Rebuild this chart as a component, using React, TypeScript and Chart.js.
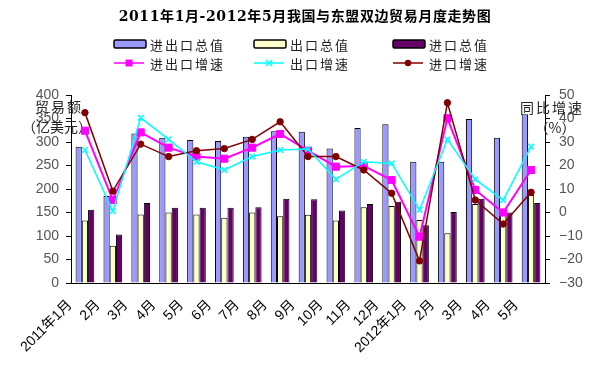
import React, { useEffect, useRef } from 'react';
import { Chart, registerables } from 'chart.js';

Chart.register(...registerables);

const chartTitle = '2011年1月-2012年5月我国与东盟双边贸易月度走势图';
const months = ['2011年1月', '2月', '3月', '4月', '5月', '6月', '7月', '8月', '9月', '10月', '11月', '12月', '2012年1月', '2月', '3月', '4月', '5月'];
const totalValue = [290, 185, 318, 309, 304, 302, 311, 323, 322, 286, 330, 338, 258, 258, 349, 309, 359];
const exportValue = [133, 79, 146, 150, 146, 139, 150, 142, 145, 133, 161, 164, 134, 106, 168, 148, 187];
const importValue = [156, 103, 170, 160, 160, 160, 161, 179, 178, 154, 168, 173, 123, 151, 179, 150, 170];
const totalGrowth = [34.8, 5.3, 34.1, 27.6, 23.8, 22.9, 27.6, 33.4, 26.3, 19.5, 19.8, 13.8, -10.3, 40.1, 9.6, 0, 18.1];
const exportGrowth = [26.6, 0.6, 40.3, 31.1, 21.6, 18.1, 23.8, 26.6, 27.0, 14.1, 21.6, 20.9, 1.1, 31.1, 14.1, 5.3, 28.0];
const importGrowth = [42.5, 9.1, 29.1, 23.8, 26.3, 27.2, 31.1, 38.6, 23.8, 23.8, 18.1, 8.2, -20.6, 46.7, 5.3, -4.9, 8.6];
const leftAxisTitle = ['贸易额', '（亿美元）'];
const rightAxisTitle = ['同比增速', '（%）'];

const CJK = "'Noto Sans CJK SC', sans-serif";

function legendMarker(ctx: CanvasRenderingContext2D, style: string, color: string, cx: number, cy: number) {
  ctx.fillStyle = color;
  ctx.strokeStyle = color;
  if (style === 'rect') {
    ctx.fillRect(cx - 3.5, cy - 3.5, 7, 7);
  } else if (style === 'circle') {
    ctx.beginPath();
    ctx.arc(cx, cy, 3.2, 0, Math.PI * 2);
    ctx.fill();
  } else {
    ctx.lineWidth = 1.5;
    ctx.beginPath();
    ctx.moveTo(cx - 3, cy - 3);
    ctx.lineTo(cx + 3, cy + 3);
    ctx.moveTo(cx - 3, cy + 3);
    ctx.lineTo(cx + 3, cy - 3);
    ctx.stroke();
  }
}

const decorPlugin = {
  id: 'decor',
  beforeDatasetsDraw(chart: any) {
    const ctx = chart.ctx;
    ctx.save();
    ctx.fillStyle = '#222';
    ctx.textAlign = 'center';
    ctx.textBaseline = 'middle';
    ctx.font = `14px ${CJK}`;
    try { (ctx as any).letterSpacing = '2px'; } catch (e) {}
    ctx.fillText(leftAxisTitle[0], 59, 107);
    ctx.fillText(rightAxisTitle[0], 552, 108);
    try { (ctx as any).letterSpacing = '0px'; } catch (e) {}
    ctx.fillText(leftAxisTitle[1], 57, 127);
    ctx.fillText(rightAxisTitle[1], 555, 128);
    ctx.restore();
  },
  afterDraw(chart: any) {
    const ctx = chart.ctx;
    ctx.save();
    ctx.fillStyle = '#000';
    ctx.textAlign = 'center';
    ctx.textBaseline = 'middle';
    ctx.font = `bold 14px 'DejaVu Serif', ${CJK}`;
    try { (ctx as any).letterSpacing = '0.6px'; } catch (e) {}
    ctx.fillText(chartTitle, 305, 17);
    const cols = [114, 254, 393];
    const ds = chart.data.datasets;
    ctx.font = `13px ${CJK}`;
    try { (ctx as any).letterSpacing = '2px'; } catch (e) {}
    ctx.textAlign = 'left';
    for (let i = 0; i < 6; i++) {
      const d = ds[i];
      const x = cols[i % 3];
      const y = i < 3 ? 44 : 63;
      if (d.type === 'bar') {
        ctx.fillStyle = d.backgroundColor;
        ctx.strokeStyle = '#000';
        ctx.lineWidth = 1.5;
        ctx.beginPath();
        ctx.roundRect(x, y - 4, 32, 8, 1.5);
        ctx.fill();
        ctx.stroke();
      } else {
        ctx.strokeStyle = d.borderColor;
        ctx.lineWidth = 1.5;
        ctx.beginPath();
        ctx.moveTo(x, y);
        ctx.lineTo(x + 30, y);
        ctx.stroke();
        legendMarker(ctx, d.pointStyle, d.borderColor, x + 15, y);
      }
      ctx.fillStyle = '#222';
      ctx.fillText(d.label, x + 36, y + 1);
    }
    ctx.restore();
  },
};

export default function App() {
  const ref = useRef<HTMLCanvasElement | null>(null);
  useEffect(() => {
    if (!ref.current) return;
    const minus = (v: any) => String(v).replace('-', '−');
    const chart = new Chart(ref.current, {
      type: 'bar',
      data: {
        labels: months,
        datasets: [
          { type: 'bar', label: '进出口总值', data: totalValue, backgroundColor: '#9999FF', borderColor: '#000', borderWidth: 1, yAxisID: 'y', order: 2 },
          { type: 'bar', label: '出口总值', data: exportValue, backgroundColor: '#FFFFCC', borderColor: '#000', borderWidth: 1, yAxisID: 'y', order: 2 },
          { type: 'bar', label: '进口总值', data: importValue, backgroundColor: '#660066', borderColor: '#000', borderWidth: 1, yAxisID: 'y', order: 2 },
          { type: 'line', label: '进出口增速', data: totalGrowth, borderColor: '#FF00FF', backgroundColor: '#FF00FF', borderWidth: 2, pointStyle: 'rect', pointRadius: 5, pointBorderWidth: 1, pointBackgroundColor: '#FF00FF', pointBorderColor: '#FF00FF', yAxisID: 'y1', order: 1 },
          { type: 'line', label: '出口增速', data: exportGrowth, borderColor: '#00FFFF', backgroundColor: '#00FFFF', borderWidth: 1.5, pointStyle: 'crossRot', pointRadius: 4, pointBorderWidth: 1.5, pointBorderColor: '#00FFFF', yAxisID: 'y1', order: 0 },
          { type: 'line', label: '进口增速', data: importGrowth, borderColor: '#800000', backgroundColor: '#800000', borderWidth: 1.5, pointStyle: 'circle', pointRadius: 3.2, pointBorderWidth: 1, pointBackgroundColor: '#800000', pointBorderColor: '#800000', yAxisID: 'y1', order: 0 },
        ] as any,
      },
      options: {
        responsive: false,
        animation: false,
        layout: { padding: { top: 95, left: 0, right: 0, bottom: 0 } },
        plugins: { legend: { display: false }, title: { display: false }, tooltip: { enabled: false } },
        datasets: { bar: { categoryPercentage: 0.67, barPercentage: 1 } } as any,
        scales: {
          x: {
            grid: { display: false },
            border: { color: '#000', width: 1 },
            ticks: {
              autoSkip: false, maxRotation: 45, minRotation: 45, labelOffset: -15, padding: 6,
              color: '#000', font: { size: 14, family: `'Liberation Sans', ${CJK}` },
            },
            afterFit: (s: any) => { s.height = 93; },
          },
          y: {
            position: 'left', min: 0, max: 400,
            grid: { drawOnChartArea: false, tickLength: 5, color: '#000' },
            border: { color: '#000', width: 1 },
            ticks: { stepSize: 50, padding: 7, color: '#555', font: { size: 14, family: "'Liberation Sans', sans-serif" } },
            afterFit: (s: any) => { s.width = 71; },
          },
          y1: {
            position: 'right', min: -30, max: 50,
            grid: { drawOnChartArea: false, tickLength: 5, color: '#000' },
            border: { color: '#000', width: 1 },
            ticks: { stepSize: 10, padding: 9, color: '#555', font: { size: 14, family: "'Liberation Sans', sans-serif" }, callback: minus },
            afterFit: (s: any) => { s.width = 55; },
          },
        } as any,
      },
      plugins: [decorPlugin],
    });
    return () => chart.destroy();
  }, []);
  return (
    <div style={{ position: 'absolute', left: 0, top: 0, width: 600, height: 376, background: '#fff' }}>
      <canvas ref={ref} width={600} height={376} />
    </div>
  );
}
